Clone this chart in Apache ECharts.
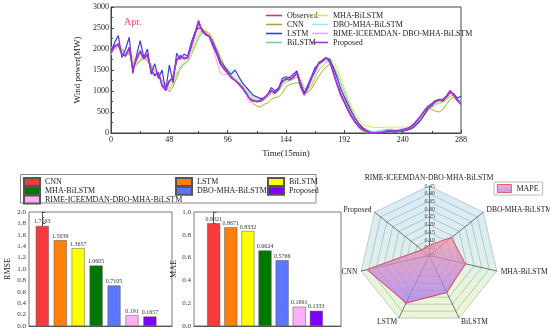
<!DOCTYPE html>
<html><head><meta charset="utf-8">
<script src="https://cdn.jsdelivr.net/npm/echarts@6/dist/echarts.min.js"></script>
<style>html,body{margin:0;padding:0;background:#fff;width:550px;height:333px;overflow:hidden}
#top{position:absolute;left:0;top:0;width:550px;height:165px}
#bot{position:absolute;left:0;top:165px;width:550px;height:168px}</style>
</head><body>
<div id="top"></div><div id="bot"></div>
<script>
const timeIdx = [0,3,6,9,12,15,18,21,24,27,30,33,36,39,42,45,48,51,54,57,60,63,66,69,72,75,78,81,84,87,90,93,96,99,102,105,108,111,114,117,120,123,126,129,132,135,138,141,144,147,150,153,156,159,162,165,168,171,174,177,180,183,186,189,192,195,198,201,204,207,210,213,216,219,222,225,228,231,234,237,240,243,246,249,252,255,258,261,264,267,270,273,276,279,282,285,288];
const observed = [1930,2050,2130,1880,1830,2000,1500,1780,1930,1760,1850,1470,1380,1420,1150,1050,1250,1300,1760,1820,1800,1780,2090,2330,2620,2450,2370,2290,2090,1900,1660,1540,1420,1330,1260,1180,1090,950,830,780,740,760,830,900,1020,940,1060,1220,1300,1260,1340,1420,1140,900,1100,1300,1500,1660,1740,1790,1710,1460,1180,940,750,560,400,270,170,100,55,15,0,5,10,20,50,60,40,50,70,90,130,190,290,400,520,620,700,760,790,780,860,990,920,800,700];
const cnn = [1950,2000,2050,2000,1900,1880,1800,1650,1700,1800,1720,1650,1500,1400,1250,1100,980,1100,1300,1550,1650,1700,1850,2100,2300,2450,2420,2350,2200,2000,1800,1600,1450,1350,1250,1150,1050,950,800,700,640,620,680,720,800,850,860,950,1100,1150,1180,1200,1150,980,960,1050,1200,1350,1480,1580,1640,1550,1350,1100,850,620,420,250,120,40,0,0,0,20,50,60,70,70,60,70,80,80,90,120,200,300,420,640,560,520,500,560,680,800,860,760,700];
const lstm = [1950,2150,2320,1800,2000,2280,1420,1850,2200,1800,2000,1400,1650,1300,1500,1000,1620,1200,1900,1750,1880,1820,2150,2400,2500,2480,2330,2300,2150,1950,1720,1600,1480,1400,1500,1350,1200,1100,1000,900,860,820,840,920,1080,1000,1080,1300,1340,1320,1400,1480,1200,950,1150,1350,1560,1640,1700,1780,1760,1560,1320,1050,860,680,500,340,220,130,60,20,5,0,10,20,40,30,20,50,40,60,90,140,220,320,450,580,650,740,780,760,850,960,940,830,880];
const bilstm = [2000,1980,2080,2000,1850,1900,1700,1600,1750,1780,1700,1600,1450,1350,1280,1150,1050,1200,1400,1550,1650,1700,1850,2050,2250,2380,2350,2280,2150,1980,1780,1600,1480,1380,1300,1220,1120,1000,900,820,760,740,780,850,940,960,1000,1120,1220,1250,1280,1330,1250,1050,1020,1150,1330,1500,1600,1680,1700,1600,1420,1200,980,760,560,380,240,140,80,50,30,40,60,80,90,90,80,90,100,110,130,170,240,330,440,540,620,680,720,740,800,880,900,820,740];
const mhaBilstm = [2050,2000,2050,2050,1900,1950,1800,1650,1750,1850,1750,1650,1500,1400,1300,1180,1100,1150,1350,1600,1700,1750,1850,2100,2300,2450,2450,2380,2250,2050,1850,1650,1500,1400,1320,1240,1150,1050,940,860,800,780,800,860,960,1000,1020,1120,1250,1280,1300,1350,1300,1100,1000,1100,1300,1480,1600,1700,1760,1700,1550,1320,1080,850,640,460,320,220,170,150,140,130,130,140,140,140,140,140,140,140,150,180,240,330,430,520,600,660,700,720,780,860,880,800,720];
const dboMhaBilstm = [1950,2020,2100,1950,1850,1950,1650,1700,1850,1750,1800,1550,1450,1380,1250,1120,1180,1250,1450,1500,1600,1720,1950,2200,2400,2420,2380,2300,2150,1980,1750,1620,1520,1480,1400,1300,1200,1080,950,870,820,800,840,900,1000,980,1050,1180,1260,1270,1320,1380,1200,1000,1060,1250,1420,1580,1680,1740,1720,1550,1330,1100,880,680,500,340,220,140,90,60,40,40,50,60,80,80,70,80,90,100,130,180,260,360,470,570,640,720,760,760,830,940,920,800,700];
const rimeModel = [1850,2060,2120,1900,1800,2000,1520,1760,1920,1770,1840,1480,1400,1400,1180,1060,1200,1320,1700,1800,1780,1760,2050,2300,2580,2430,2350,2270,2050,1700,1420,1380,1400,1320,1240,1160,1080,900,720,740,760,780,840,900,1010,950,1060,1210,1290,1270,1340,1420,1150,910,1100,1300,1520,1640,1720,1780,1700,1450,1160,930,740,550,390,260,160,90,50,20,5,10,20,30,50,60,50,60,70,90,130,200,300,410,530,630,700,760,790,790,870,980,910,790,690];
const proposed = [1900,2080,2100,1860,1850,2040,1540,1750,1960,1780,1880,1500,1360,1450,1120,1020,1230,1330,1720,1850,1760,1800,2050,2360,2680,2420,2350,2300,2060,1880,1640,1520,1430,1310,1250,1170,1070,960,820,760,750,780,820,920,1000,960,1040,1240,1280,1280,1320,1440,1100,920,1080,1320,1480,1680,1720,1800,1690,1420,1150,900,720,540,380,250,150,80,40,10,0,10,15,30,60,55,50,60,80,100,140,210,310,420,540,640,690,770,800,800,880,1010,900,780,680];

const models = ['CNN','LSTM','BiLSTM','MHA-BiLSTM','DBO-MHA-BiLSTM','RIME-ICEEMDAN-DBO-MHA-BiLSTM','Proposed'];
const rmse = [1.7563,1.5039,1.3657,1.0605,0.7105,0.191,0.1657];
const mae = [0.9021,0.8671,0.8332,0.6624,0.5766,0.1691,0.1333];
const mape = [0.41,0.34,0.265,0.24,0.185,0.065,0.058]; // same order as models
const radarOrder = ['RIME-ICEEMDAN-DBO-MHA-BiLSTM','Proposed','CNN','LSTM','BiLSTM','MHA-BiLSTM','DBO-MHA-BiLSTM'];

const FONT = '"Liberation Serif","Times New Roman",serif';

// ---------- top line chart ----------
const topChart = echarts.init(document.getElementById('top'), null, {renderer:'canvas'});
function ls(name, arr, color, width, z) {
  return {name:name, type:'line', data: timeIdx.map((t,i)=>[t, arr[i]]), symbol:'none',
    lineStyle:{color:color, width:width}, itemStyle:{color:color}, z:z, animation:false};
}
const lineLegendText = {fontSize:8, fontFamily:FONT, color:'#222', lineHeight:9};
const lineLegendCommon = {orient:'vertical', itemWidth:16, itemHeight:1.6, itemGap:0, padding:0, icon:'rect', textStyle:lineLegendText};
topChart.setOption({
  animation:false,
  title:{text:'Apr.', left:119, top:12, textStyle:{fontSize:10, fontFamily:FONT, color:'#e8505e', fontWeight:'normal'}},
  legend:[
    Object.assign({left:266, top:11, data:['Observed','CNN','LSTM','BiLSTM']}, lineLegendCommon),
    Object.assign({left:312, top:11, data:['MHA-BiLSTM','DBO-MHA-BiLSTM','RIME-ICEEMDAN- DBO-MHA-BiLSTM','Proposed']}, lineLegendCommon)
  ],
  grid:{left:111, right:89, top:7, height:126, show:true, borderColor:'#444', borderWidth:1},
  xAxis:{type:'value', min:0, max:288, interval:48,
    name:'Time(15min)', nameLocation:'middle', nameGap:12,
    nameTextStyle:{fontSize:9, fontFamily:FONT, color:'#222'},
    axisLine:{lineStyle:{color:'#444'}}, axisTick:{inside:true, length:3, lineStyle:{color:'#444'}},
    minorTick:{show:true, splitNumber:2, length:2}, splitLine:{show:false},
    axisLabel:{fontSize:8, fontFamily:FONT, color:'#222', margin:3}},
  yAxis:{type:'value', min:0, max:3000, interval:500,
    name:'Wind power(MW)', nameLocation:'middle', nameGap:20,
    nameTextStyle:{fontSize:9, fontFamily:FONT, color:'#222'},
    axisLine:{show:true, lineStyle:{color:'#444'}}, axisTick:{show:true, inside:true, length:3, lineStyle:{color:'#444'}},
    minorTick:{show:true, splitNumber:2, length:2}, splitLine:{show:false},
    axisLabel:{fontSize:8, fontFamily:FONT, color:'#222', margin:2, formatter:(v)=>String(v)}},
  series:[
    ls('CNN', cnn, '#a9a83a', 1, 1),
    ls('BiLSTM', bilstm, '#6fd0a0', 1, 2),
    ls('MHA-BiLSTM', mhaBilstm, '#e8e060', 1, 3),
    ls('DBO-MHA-BiLSTM', dboMhaBilstm, '#a8e6f2', 1, 4),
    ls('RIME-ICEEMDAN- DBO-MHA-BiLSTM', rimeModel, '#f7a6ec', 1, 5),
    ls('LSTM', lstm, '#3c3ce0', 1.2, 6),
    ls('Observed', observed, '#e0305c', 1.3, 7),
    ls('Proposed', proposed, '#9b34e4', 1.5, 8)
  ]
});

// ---------- bottom: bars + radar ----------
const barColors = ['#f43a3a','#ff7f0a','#ffff00','#007800','#5b77ff','#fdb0f6','#7f00ff'];
const botChart = echarts.init(document.getElementById('bot'), null, {renderer:'canvas'});
const barSeries = [];
models.forEach((m,i)=>{
  [[rmse,0],[mae,1]].forEach(([arr,g])=>{
    barSeries.push({name:m, type:'bar', xAxisIndex:g, yAxisIndex:g, barWidth:13, barGap:'-100%',
      data:[[i, arr[i]]], itemStyle:{color:barColors[i], borderColor:'#555', borderWidth:0.5},
      label:{show:true, position:'top', distance:1, fontSize:6, fontFamily:FONT, color:'#333',
        formatter:(p)=>String(p.value[1])}, animation:false});
  });
});
const barLegendText = {fontSize:8, fontFamily:FONT, color:'#222', lineHeight:9};
const legendCommon = {orient:'vertical', itemWidth:16, itemHeight:8, itemGap:-1.2, padding:0, icon:'rect', textStyle:barLegendText};
const mapeGradient = new echarts.graphic.LinearGradient(0,0,0,1,[{offset:0,color:'rgba(240,150,170,0.75)'},{offset:1,color:'rgba(170,120,245,0.75)'}]);
const yAx = (max, name, gap, idx) => ({type:'value', gridIndex:idx, min:0, max:max, interval:0.2,
  name:name, nameLocation:'middle', nameGap:gap, nameTextStyle:{fontSize:8, fontFamily:FONT, color:'#222'},
  axisLine:{show:true, lineStyle:{color:'#555'}}, axisTick:{show:true, inside:true, length:3, lineStyle:{color:'#555'}},
  minorTick:{show:true, splitNumber:2, length:2}, splitLine:{show:false},
  axisLabel:{fontSize:7, fontFamily:FONT, color:'#333', margin:3, formatter:(v)=>v.toFixed(1)}});
const xAx = (mn, mx, idx) => ({type:'value', gridIndex:idx, min:mn, max:mx,
  axisLine:{show:true, lineStyle:{color:'#555'}}, axisTick:{show:false}, axisLabel:{show:false}, splitLine:{show:false}});

botChart.setOption({
  animation:false,
  legend:[
    Object.assign({left:23, top:12, data:['CNN','MHA-BiLSTM','RIME-ICEEMDAN-DBO-MHA-BiLSTM']}, legendCommon),
    Object.assign({left:175, top:12, data:['LSTM','DBO-MHA-BiLSTM']}, legendCommon),
    Object.assign({left:267, top:12, data:['BiLSTM','Proposed']}, legendCommon),
    {left:494, top:17, data:['MAPE'], orient:'vertical', itemWidth:14, itemHeight:8, padding:[2,4,2,3],
     borderColor:'#aaa', borderWidth:0.8, icon:'rect',
     itemStyle:{color:mapeGradient, borderColor:'#e0404a', borderWidth:0.8},
     textStyle:barLegendText}
  ],
  graphic:[{type:'rect', shape:{x:20.5, y:9.5, width:295.5, height:28.5}, style:{fill:'none', stroke:'#888', lineWidth:1}, silent:true}],
  grid:[
    {left:29, top:47, width:143, height:114, show:true, borderColor:'#555', borderWidth:0.8},
    {left:194, top:47, width:147, height:114, show:true, borderColor:'#555', borderWidth:0.8}
  ],
  xAxis:[xAx(-0.74, 7.23, 0), xAx(-1.15, 7.44, 1)],
  yAxis:[yAx(2.0, 'RMSE', 17, 0), yAx(1.0, 'MAE', 12, 1)],
  radar:{
    center:[429, 90.5], radius:69.5, startAngle:90, splitNumber:9, shape:'polygon',
    axisName:{color:'#222', fontSize:7.5, fontFamily:FONT},
    nameGap:4,
    indicator: radarOrder.map((n,k)=>{
      const o = {name:n, min:0, max:0.45};
      if (k===0) o.axisLabel = {show:true, fontSize:6, fontFamily:FONT, color:'#444', margin:-6, formatter:(v)=>Number(v).toFixed(2)};
      return o;
    }),
    axisLabel:{show:false},
    axisLine:{lineStyle:{color:'#555', width:0.8}},
    splitLine:{lineStyle:{color:'#999', width:0.5}},
    splitArea:{show:true, areaStyle:{color:[new echarts.graphic.LinearGradient(0,21,0,160,[
      {offset:0,color:'#d6ebfa'},{offset:0.5,color:'#dcefee'},{offset:0.7,color:'#e6f5dc'},{offset:1,color:'#eaf6d6'}], true)]}}
  },
  series: barSeries.concat([{
    name:'MAPE', type:'radar', symbol:'none',
    lineStyle:{color:'#e0404a', width:1.2},
    itemStyle:{color:'#e0404a'},
    areaStyle:{color:mapeGradient, opacity:1},
    data:[{value: radarOrder.map(n=>mape[models.indexOf(n)]), name:'MAPE'}],
    animation:false
  }])
});
</script>
</body></html>
